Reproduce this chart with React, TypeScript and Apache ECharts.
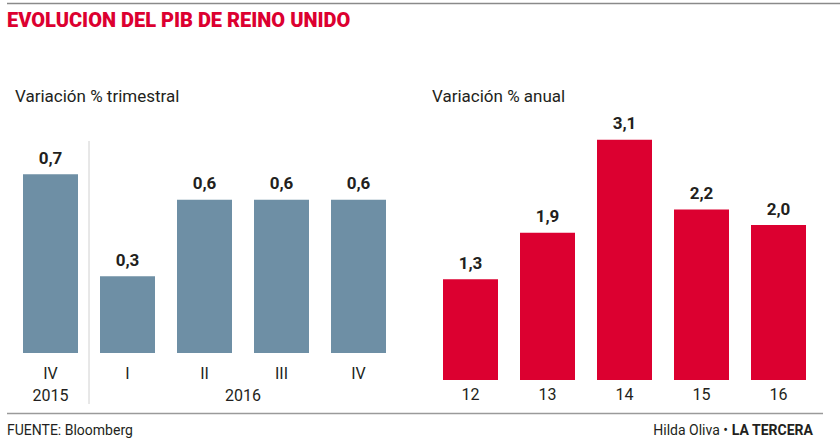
import React, { useEffect, useRef } from "react";
import * as echarts from "echarts";

const quarterCats = ["IV", "I", "II", "III", "IV"];
const quarterValues = [0.7, 0.3, 0.6, 0.6, 0.6];
const quarterLabels = ["0,7", "0,3", "0,6", "0,6", "0,6"];
const yearGroups = [
  { label: "2015", from: 0, to: 0 },
  { label: "2016", from: 1, to: 4 },
];
const yearCats = ["12", "13", "14", "15", "16"];
const yearValues = [1.3, 1.9, 3.1, 2.2, 2.0];
const yearLabels = ["1,3", "1,9", "3,1", "2,2", "2,0"];

const FONT = "Roboto, 'Noto Sans', sans-serif";
const DARK = "#231f20";

export default function App() {
  const ref = useRef<HTMLDivElement>(null);
  useEffect(() => {
    if (!ref.current) return;
    const chart = echarts.init(ref.current, null, { renderer: "svg" });
    const g1 = { left: 12, width: 385, top: 97.5, bottom: 89 };
    const g2 = { left: 432, width: 385, top: 70, bottom: 62 };
    const band = g1.width / quarterCats.length;
    const yearTexts = yearGroups.map((y) => ({
      type: "text",
      x: g1.left + band * ((y.from + y.to) / 2 + 0.5),
      y: 395,
      style: {
        text: y.label,
        fontFamily: FONT,
        fontSize: 16,
        fill: DARK,
        align: "center",
        verticalAlign: "middle",
      },
    }));
    chart.setOption({
      animation: false,
      backgroundColor: "#ffffff",
      grid: [
        { left: g1.left, width: g1.width, top: g1.top, bottom: g1.bottom },
        { left: g2.left, width: g2.width, top: g2.top, bottom: g2.bottom },
      ],
      xAxis: [
        {
          type: "category",
          gridIndex: 0,
          data: quarterCats,
          axisLine: { show: false },
          axisTick: { show: false },
          axisLabel: { fontFamily: FONT, fontSize: 16, color: DARK, margin: 12 },
        },
        {
          type: "category",
          gridIndex: 1,
          data: yearCats,
          axisLine: { show: false },
          axisTick: { show: false },
          axisLabel: { fontFamily: FONT, fontSize: 16, color: DARK, margin: 6 },
        },
      ],
      yAxis: [
        { type: "value", gridIndex: 0, min: 0, max: 1, show: false, splitLine: { show: false } },
        { type: "value", gridIndex: 1, min: 0, max: 4, show: false, splitLine: { show: false } },
      ],
      series: [
        {
          type: "bar",
          xAxisIndex: 0,
          yAxisIndex: 0,
          data: quarterValues,
          barWidth: 55,
          itemStyle: { color: "#6e8fa5" },
          label: {
            show: true,
            position: "top",
            distance: 8,
            formatter: (p: any) => quarterLabels[p.dataIndex],
            fontFamily: FONT,
            fontWeight: "bold",
            fontSize: 17,
            color: DARK,
          },
        },
        {
          type: "bar",
          xAxisIndex: 1,
          yAxisIndex: 1,
          data: yearValues,
          barWidth: 55,
          itemStyle: { color: "#dc0030" },
          label: {
            show: true,
            position: "top",
            distance: 8,
            formatter: (p: any) => yearLabels[p.dataIndex],
            fontFamily: FONT,
            fontWeight: "bold",
            fontSize: 17,
            color: DARK,
          },
        },
      ],
      graphic: [
        { type: "line", shape: { x1: 7, y1: 3.5, x2: 840, y2: 3.5 }, style: { stroke: "#8a8a8a", lineWidth: 1.5 } },
        {
          type: "text",
          x: 7,
          y: 20,
          style: {
            text: "EVOLUCION DEL PIB DE REINO UNIDO",
            fontFamily: FONT,
            fontWeight: 900,
            fontSize: 20,
            fill: "#dc0030",
            verticalAlign: "middle",
          },
        },
        {
          type: "text",
          x: 15,
          y: 96,
          style: { text: "Variación % trimestral", fontFamily: FONT, fontSize: 17, fill: DARK, verticalAlign: "middle" },
        },
        {
          type: "text",
          x: 432,
          y: 96,
          style: { text: "Variación % anual", fontFamily: FONT, fontSize: 17, fill: DARK, verticalAlign: "middle" },
        },
        { type: "line", shape: { x1: 89, y1: 141, x2: 89, y2: 404 }, style: { stroke: "#d0d0d0", lineWidth: 1 } },
        ...yearTexts,
        { type: "line", shape: { x1: 7, y1: 413.5, x2: 823, y2: 413.5 }, style: { stroke: "#9a9a9a", lineWidth: 1.5 } },
        {
          type: "text",
          x: 7,
          y: 430,
          style: { text: "FUENTE: Bloomberg", fontFamily: FONT, fontSize: 14, fill: DARK, verticalAlign: "middle" },
        },
        {
          type: "text",
          x: 813,
          y: 430,
          style: {
            text: "{a|Hilda Oliva • }{b|LA TERCERA}",
            align: "right",
            verticalAlign: "middle",
            rich: {
              a: { fontFamily: FONT, fontSize: 14, fill: DARK, color: DARK },
              b: { fontFamily: FONT, fontSize: 14, fontWeight: "bold", fill: DARK, color: DARK },
            },
          },
        },
      ],
    });
    return () => chart.dispose();
  }, []);
  return <div ref={ref} style={{ position: "absolute", left: 0, top: 0, width: 840, height: 442 }} />;
}
